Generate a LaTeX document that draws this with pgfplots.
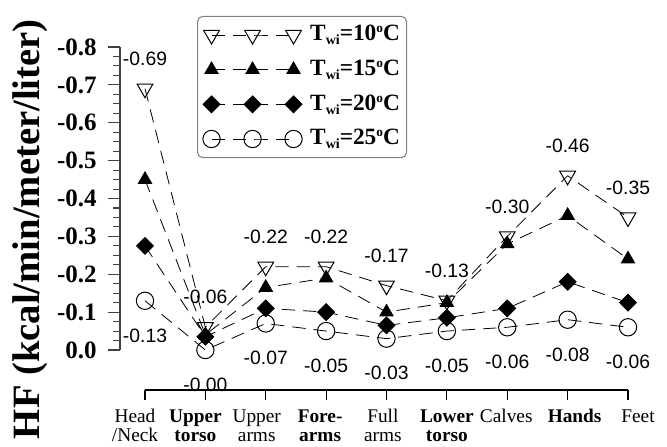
\documentclass[border=0pt]{standalone}
\usepackage{fontspec}
\setmainfont{Liberation Serif}
\newfontfamily\arialf{Liberation Sans}
\usepackage{pgfplots}
\usepackage{pgfplotstable}
\pgfplotsset{compat=1.18}
\newcommand\tl[2]{\hspace*{#1}\begin{tabular}[t]{@{}c@{}}#2\end{tabular}\hspace*{-#1}}
\newcommand\tw[1]{T{\fontsize{10.5}{12}\selectfont\raisebox{-3pt}{wi}}=#1{\fontsize{10}{12}\selectfont\raisebox{6pt}{o}}C}

\pgfplotstableread{
x t10 l10 t15 t20 t25 l25
0 -0.69 -0.69 -0.45 -0.275 -0.13 -0.13
1 -0.06 -0.06 -0.04 -0.035 -0.00 -0.00
2 -0.22 -0.22 -0.165 -0.11 -0.07 -0.07
3 -0.22 -0.22 -0.19 -0.10 -0.05 -0.05
4 -0.17 -0.17 -0.10 -0.065 -0.03 -0.03
5 -0.13 -0.13 -0.125 -0.085 -0.05 -0.05
6 -0.30 -0.30 -0.28 -0.11 -0.06 -0.06
7 -0.46 -0.46 -0.355 -0.18 -0.08 -0.08
8 -0.35 -0.35 -0.24 -0.125 -0.06 -0.06
}\data

\begin{document}
\begin{tikzpicture}
\useasboundingbox (0,0) rectangle (500.25pt,334.5pt);
\begin{axis}[
  at={(90pt,72pt)}, anchor=south west,
  scale only axis, width=405pt, height=227.25pt,
  xmin=-0.414, xmax=8.53, ymin=-0.8, ymax=0,
  y dir=reverse,
  axis y line*=left, axis x line=none,
  clip=false,
  ytick={-0.8,-0.7,-0.6,-0.5,-0.4,-0.3,-0.2,-0.1,0},
  yticklabels={-0.8,-0.7,-0.6,-0.5,-0.4,-0.3,-0.2,-0.1,0.0},
  minor y tick num=3,
  tick align=outside,
  major tick length=9pt, minor tick length=5pt,
  y axis line style={black!75, line width=0.8pt},
  every tick/.style={black!75, line width=0.8pt},
  yticklabel style={font=\fontsize{18.75}{20}\selectfont\bfseries, xshift=-5pt},
  ylabel={HF (kcal/min/meter/liter)},
  ylabel style={at={(axis description cs:-0.1667,0.399)}, anchor=center, font=\fontsize{29}{32}\selectfont\bfseries},
  legend style={at={(axis description cs:0.1426,1.103)}, anchor=north west,
     draw=black!50, line width=0.8pt, rounded corners=4pt, fill=white,
     font=\fontsize{17.5}{20}\selectfont\bfseries,
     inner xsep=4pt, inner ysep=4.5pt, row sep=7pt, column sep=5pt,
     nodes={inner sep=1pt, text height=13pt, text depth=4pt}},
  legend cell align=left,
  legend image code/.code={\draw[#1] plot coordinates {(0pt,0pt) (30.75pt,0pt) (61.5pt,0pt)};},
]
\addplot[black, line width=0.6pt, dash pattern=on 10pt off 6pt,
  mark=triangle, mark size=6.8pt, mark options={solid, rotate=180, line width=0.75pt},
  nodes near coords, point meta=explicit symbolic,
  nodes near coords style={font=\arialf\fontsize{14.5}{16}\selectfont, anchor=center, yshift=22.5pt}]
  table[x=x, y=t10, meta=l10] {\data};
\addlegendentry{\tw{10}}
\addplot[black, line width=0.6pt, dash pattern=on 10pt off 6pt,
  mark=triangle*, mark size=5.8pt, mark options={solid, fill=black}]
  table[x=x, y=t15] {\data};
\addlegendentry{\tw{15}}
\addplot[black, line width=0.6pt, dash pattern=on 10pt off 6pt,
  mark=square*, mark size=4.5pt, mark options={solid, rotate=45, fill=black}]
  table[x=x, y=t20] {\data};
\addlegendentry{\tw{20}}
\addplot[black, line width=0.6pt, dash pattern=on 10pt off 6pt,
  mark=o, mark size=6.5pt, mark options={solid, line width=0.75pt},
  nodes near coords, point meta=explicit symbolic,
  nodes near coords style={font=\arialf\fontsize{14.5}{16}\selectfont, anchor=center, yshift=-26pt}]
  table[x=x, y=t25, meta=l25] {\data};
\addlegendentry{\tw{25}}
\end{axis}
\begin{axis}[
  at={(108.75pt,42pt)}, anchor=south west,
  scale only axis, width=362.25pt, height=20pt,
  xmin=0, xmax=8, ymin=0, ymax=1,
  axis x line*=bottom, axis y line=none,
  xtick={0,1,2,3,4,5,6,7,8},
  xticklabels={\tl{-7.5pt}{Head\\/Neck},\tl{-7.5pt}{\textbf{Upper}\\\textbf{torso}},\tl{-6.75pt}{Upper\\arms},\tl{-4.5pt}{\textbf{Fore-}\\\textbf{arms}},\tl{-2.7pt}{Full\\arms},\tl{0pt}{\textbf{Lower}\\\textbf{torso}},\tl{-0.75pt}{Calves},\tl{5.25pt}{\textbf{Hands}},\tl{7.5pt}{Feet}},
  tick align=outside, major tick length=7.5pt,
  x axis line style={black, line width=0.8pt},
  every tick/.style={black, line width=0.8pt},
  xticklabel style={font=\fontsize{14.5}{14}\selectfont, anchor=north, yshift=-3.5pt},
]
\end{axis}
\end{tikzpicture}
\end{document}
